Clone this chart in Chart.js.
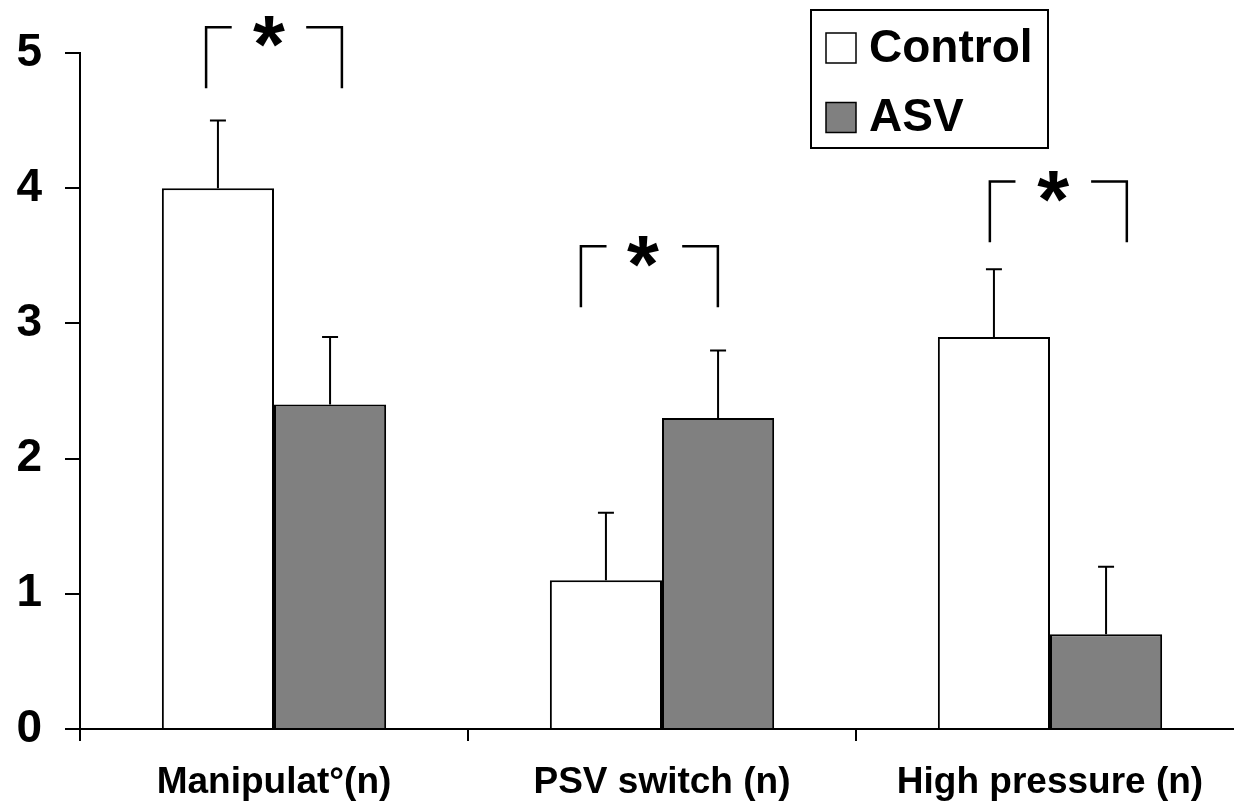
<!DOCTYPE html>
<html><head><meta charset="utf-8">
<script src="https://cdn.jsdelivr.net/npm/chart.js@4"></script>
<style>html,body{margin:0;padding:0;overflow:hidden;background:#fff}canvas{display:block}</style>
</head><body>
<canvas id="c" width="1244" height="807"></canvas>
<script>
const categories = ['Manipulat°(n)', 'PSV switch (n)', 'High pressure (n)'];
const seriesNames = ['Control', 'ASV'];
const controlValues = [4.0, 1.1, 2.9];
const asvValues = [2.4, 2.3, 0.7];
const controlErrors = [0.5, 0.5, 0.5];
const asvErrors = [0.5, 0.5, 0.5];
const yTickValues = [0, 1, 2, 3, 4, 5];
const sigLabels = ['*', '*', '*'];
// significance brackets, in data units (offset from category index, value)
const bracketLeft = [-0.175, -0.209, -0.155];
const bracketRight = [0.175, 0.144, 0.198];
const bracketTop = [5.19, 3.57, 4.05];
const bracketBottom = [4.74, 3.12, 3.60];
const starX = [-0.013, -0.049, 0.008];
const starY = [5.16, 3.53, 4.01];

const FONT = "'Liberation Sans', Arial, Helvetica, sans-serif";
const errorsBySeries = [controlErrors, asvErrors];

const extras = {
  id: 'extras',
  afterDatasetsDraw(chart) {
    const ctx = chart.ctx;
    const xs = chart.scales.x, ys = chart.scales.y;
    ctx.save();
    ctx.strokeStyle = '#000';
    ctx.lineCap = 'butt';
    // error bars
    chart.data.datasets.forEach((ds, di) => {
      const meta = chart.getDatasetMeta(di);
      meta.data.forEach((bar, i) => {
        const top = ys.getPixelForValue(ds.data[i] + errorsBySeries[di][i]);
        ctx.lineWidth = 2;
        ctx.beginPath();
        ctx.moveTo(bar.x, bar.y);
        ctx.lineTo(bar.x, top);
        ctx.moveTo(bar.x - 8, top);
        ctx.lineTo(bar.x + 8, top);
        ctx.stroke();
      });
    });
    // brackets
    const cw = xs.getPixelForValue(1) - xs.getPixelForValue(0);
    const armL = 0.066, armR = 0.092;
    categories.forEach((c, i) => {
      const cx = xs.getPixelForValue(i);
      const xl = cx + bracketLeft[i] * cw, xr = cx + bracketRight[i] * cw;
      const yt = ys.getPixelForValue(bracketTop[i]), yb = ys.getPixelForValue(bracketBottom[i]);
      ctx.lineWidth = 2.5;
      ctx.beginPath();
      ctx.moveTo(xl, yb); ctx.lineTo(xl, yt); ctx.lineTo(xl + armL * cw, yt);
      ctx.moveTo(xr - armR * cw, yt); ctx.lineTo(xr, yt); ctx.lineTo(xr, yb);
      ctx.stroke();
      ctx.fillStyle = '#000';
      ctx.font = 'bold 82px ' + FONT;
      ctx.textAlign = 'center';
      ctx.textBaseline = 'alphabetic';
      const m = ctx.measureText(sigLabels[i]);
      const sy = ys.getPixelForValue(starY[i]);
      ctx.fillText(sigLabels[i], cx + starX[i] * cw, sy + (m.actualBoundingBoxAscent - m.actualBoundingBoxDescent) / 2);
    });
    // legend
    ctx.lineWidth = 2;
    ctx.strokeRect(811, 10, 237, 138);
    chart.data.datasets.forEach((ds, di) => {
      const cy = 48 + di * 69.5;
      ctx.fillStyle = ds.backgroundColor;
      ctx.fillRect(826, cy - 15, 30, 30);
      ctx.lineWidth = 1.5;
      ctx.strokeRect(826, cy - 15, 30, 30);
      ctx.fillStyle = '#000';
      ctx.font = 'bold 46px ' + FONT;
      ctx.textAlign = 'left';
      ctx.textBaseline = 'middle';
      ctx.fillText(ds.label, 869, cy + 1);
    });
    ctx.restore();
  }
};

new Chart(document.getElementById('c'), {
  type: 'bar',
  data: {
    labels: categories,
    datasets: [
      { label: seriesNames[0], data: controlValues, backgroundColor: '#ffffff', borderColor: '#000', borderWidth: 2 },
      { label: seriesNames[1], data: asvValues, backgroundColor: '#808080', borderColor: '#000', borderWidth: 2 }
    ]
  },
  options: {
    responsive: false,
    animation: false,
    devicePixelRatio: 1,
    layout: { padding: { top: 53, right: 0, left: 0, bottom: 0 } },
    plugins: { legend: { display: false }, tooltip: { enabled: false } },
    datasets: { bar: { categoryPercentage: 0.578, barPercentage: 1 } },
    scales: {
      x: {
        offset: true,
        grid: { offset: true, drawOnChartArea: false, drawTicks: true, tickLength: 12, color: '#000', lineWidth: 2 },
        border: { display: true, color: '#000', width: 2 },
        ticks: { color: '#000', font: { family: FONT, size: 37, weight: 'bold' }, padding: 20, maxRotation: 0, autoSkip: false },
        afterFit: s => { s.height = 78; }
      },
      y: {
        min: 0, max: 5,
        afterBuildTicks: s => { s.ticks = yTickValues.map(v => ({ value: v })); },
        grid: { drawOnChartArea: false, drawTicks: true, tickLength: 15, color: '#000', lineWidth: 2 },
        border: { display: true, color: '#000', width: 2 },
        ticks: { color: '#000', font: { family: FONT, size: 46, weight: 'bold' }, padding: 23 },
        afterFit: s => { s.width = 80; }
      }
    }
  },
  plugins: [extras]
});
</script>
</body></html>
